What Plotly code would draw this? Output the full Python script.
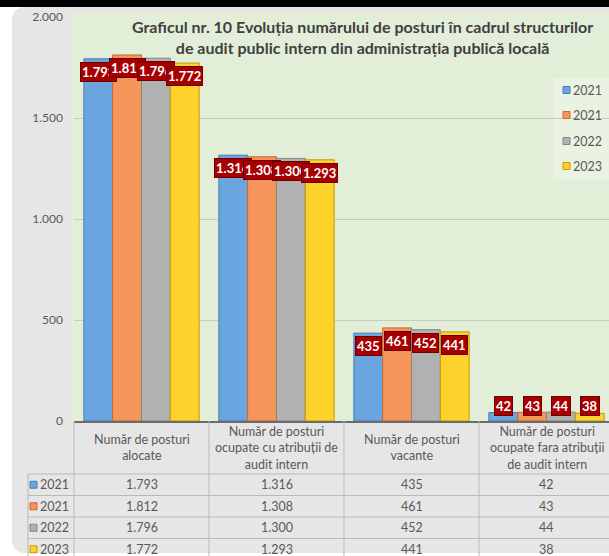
import plotly.graph_objects as go

# ---------------- data ----------------
categories = [
    "Număr de posturi<br>alocate",
    "Număr de posturi<br>ocupate cu atribuții de<br>audit intern",
    "Număr de posturi<br>vacante",
    "Număr de posturi<br>ocupate fara atribuții<br>de audit intern",
]
series_names = ["2021", "2021", "2022", "2023"]
values_2021a = [1793, 1316, 435, 42]
values_2021b = [1812, 1308, 461, 43]
values_2022 = [1796, 1300, 452, 44]
values_2023 = [1772, 1293, 441, 38]
y_ticks = [0, 500, 1000, 1500, 2000]
title_text = ("Graficul nr. 10 Evoluția numărului de posturi în cadrul structurilor<br>"
              "de audit public intern din administrația publică locală")

series_values = [values_2021a, values_2021b, values_2022, values_2023]
fills = ["#6aa5df", "#f6955a", "#b1b1b1", "#fdd22b"]
edges = ["#4a7fb5", "#c46b2d", "#858585", "#c49a00"]

# ---------------- geometry ----------------
W, H = 609, 556
L, R, T, B = 74, 0, 17, 135
PW, PH = W - L - R, H - T - B
XMIN, XMAX = -0.5, 3.463
PXU = PW / (XMAX - XMIN)
BARGAP = 0.1456
BW = (1 - BARGAP) / len(series_values)
FONT = "Lato"
TXT = "#595959"


def pxx(px):
    return (px - L) / PW


def pxy(py):
    return (H - B - py) / PH


def fmt(v):
    return f"{v:,}".replace(",", ".")


fig = go.Figure()
cat_idx = list(range(len(categories)))
for name, vals, fc, ec in zip(series_names, series_values, fills, edges):
    fig.add_trace(go.Bar(
        x=cat_idx, y=vals, name=name,
        marker=dict(color=fc, line=dict(color=ec, width=1)),
        showlegend=False, hoverinfo="skip",
    ))

shapes = []
annotations = []

# card background
x0, x1, y0, y1, r = 12, 640, 7, 553, 14
path = (f"M {pxx(x0 + r)},{pxy(y0)} L {pxx(x1)},{pxy(y0)} L {pxx(x1)},{pxy(y1)} "
        f"L {pxx(x0 + r)},{pxy(y1)} Q {pxx(x0)},{pxy(y1)} {pxx(x0)},{pxy(y1 - r)} "
        f"L {pxx(x0)},{pxy(y0 + r)} Q {pxx(x0)},{pxy(y0)} {pxx(x0 + r)},{pxy(y0)} Z")
shapes.append(dict(type="path", xref="paper", yref="paper", path=path,
                   fillcolor="#e6e6e6", line=dict(width=0), layer="below"))
# black band on top
shapes.append(dict(type="rect", xref="paper", yref="paper", x0=pxx(-5), x1=pxx(W + 5),
                   y0=pxy(7), y1=pxy(-5), fillcolor="#000000", line=dict(width=0), layer="below"))
# green plot area
shapes.append(dict(type="rect", xref="paper", yref="paper", x0=pxx(72), x1=pxx(W + 5),
                   y0=0, y1=pxy(12), fillcolor="#e3eed9", line=dict(width=0), layer="below"))
# legend box (faint)
shapes.append(dict(type="rect", xref="paper", yref="paper", x0=pxx(553), x1=pxx(W + 5),
                   y0=pxy(180), y1=pxy(78), fillcolor="rgba(255,255,255,0.25)",
                   line=dict(width=0), layer="below"))

# ---------------- data labels ----------------
LABEL_MIN = 130
for i, vals in enumerate(series_values):
    for j, v in enumerate(vals):
        xpos = j + (i - (len(series_values) - 1) / 2) * BW
        if v >= LABEL_MIN:
            ann = dict(y=v, yanchor="top", yshift=-3)
        else:
            ann = dict(y=0, yanchor="bottom", yshift=5)
        ann.update(dict(x=xpos, xref="x", yref="y", xanchor="center",
                        text=f"<b>{fmt(v)}</b>", showarrow=False,
                        font=dict(family=FONT, size=13, color="white"),
                        bgcolor="#a80000", bordercolor="#6e0000", borderwidth=1, borderpad=1))
        annotations.append(ann)

# ---------------- legend ----------------
leg_rows = [90, 115, 141, 166]
for name, fc, ec, ly in zip(series_names, fills, edges, leg_rows):
    shapes.append(dict(type="rect", xref="paper", yref="paper",
                       x0=pxx(563), x1=pxx(570), y0=pxy(ly + 3.5), y1=pxy(ly - 3.5),
                       fillcolor=fc, line=dict(color=ec, width=1)))
    annotations.append(dict(x=pxx(571), y=pxy(ly), xref="paper", yref="paper",
                            xanchor="left", yanchor="middle", text=name, showarrow=False,
                            font=dict(family=FONT, size=12.5, color=TXT)))

# ---------------- title ----------------
annotations.append(dict(x=pxx(362), y=pxy(37), xref="paper", yref="paper",
                        xanchor="center", yanchor="middle", text=f"<b>{title_text}</b>",
                        showarrow=False, font=dict(family=FONT, size=16, color="#404040")))

# ---------------- data table ----------------
GRID = "#b9b9b9"
head_top, head_bot = 421, 474
row_lines = [474, 495.5, 517, 538.5, 560]
lab_left = 28
col_bounds = [L + (b - XMIN) * PXU for b in [-0.5, 0.5, 1.5, 2.5]]
for cb in col_bounds:
    shapes.append(dict(type="line", xref="paper", yref="paper", x0=pxx(cb), x1=pxx(cb),
                       y0=pxy(head_top), y1=pxy(556), line=dict(color=GRID, width=1)))
shapes.append(dict(type="line", xref="paper", yref="paper", x0=pxx(lab_left), x1=pxx(lab_left),
                   y0=pxy(head_bot), y1=pxy(556), line=dict(color=GRID, width=1)))
for rl in row_lines[:-1]:
    shapes.append(dict(type="line", xref="paper", yref="paper", x0=pxx(lab_left), x1=pxx(W + 5),
                       y0=pxy(rl), y1=pxy(rl), line=dict(color=GRID, width=1)))

for j, cat in enumerate(categories):
    annotations.append(dict(x=j, y=pxy((head_top + head_bot) / 2), xref="x", yref="paper",
                            xanchor="center", yanchor="middle", text=cat, showarrow=False,
                            font=dict(family=FONT, size=12.5, color=TXT)))

for k, (name, vals, fc, ec) in enumerate(zip(series_names, series_values, fills, edges)):
    cy = (row_lines[k] + row_lines[k + 1]) / 2
    shapes.append(dict(type="rect", xref="paper", yref="paper",
                       x0=pxx(30), x1=pxx(37), y0=pxy(cy + 3.5), y1=pxy(cy - 3.5),
                       fillcolor=fc, line=dict(color=ec, width=1)))
    annotations.append(dict(x=pxx(38), y=pxy(cy), xref="paper", yref="paper",
                            xanchor="left", yanchor="middle", text=name, showarrow=False,
                            font=dict(family=FONT, size=12.5, color=TXT)))
    for j, v in enumerate(vals):
        annotations.append(dict(x=j, y=pxy(cy), xref="x", yref="paper",
                                xanchor="center", yanchor="middle", text=fmt(v), showarrow=False,
                                font=dict(family=FONT, size=12.5, color=TXT)))

fig.update_layout(
    width=W, height=H,
    margin=dict(l=L, r=R, t=T, b=B, pad=0),
    paper_bgcolor="white", plot_bgcolor="rgba(0,0,0,0)",
    barmode="group", bargap=BARGAP, bargroupgap=0,
    showlegend=False, separators=",.",
    font=dict(family=FONT, color=TXT),
    shapes=shapes, annotations=annotations,
    xaxis=dict(range=[XMIN, XMAX], showticklabels=False, showgrid=False, zeroline=False,
               showline=True, linecolor="#6b6b6b", linewidth=2, ticks="", fixedrange=True),
    yaxis=dict(range=[0, 2000], tickvals=y_ticks, tickformat=",d", showgrid=True,
               gridcolor="#c3cfb8", gridwidth=1, zeroline=False, showline=False, ticks="",
               ticklabelstandoff=10, tickfont=dict(family=FONT, size=12, color=TXT),
               fixedrange=True),
)

fig.write_html("out.html", config={"displayModeBar": False},
               post_script="document.body.style.margin='0px';document.body.style.overflow='hidden';")
